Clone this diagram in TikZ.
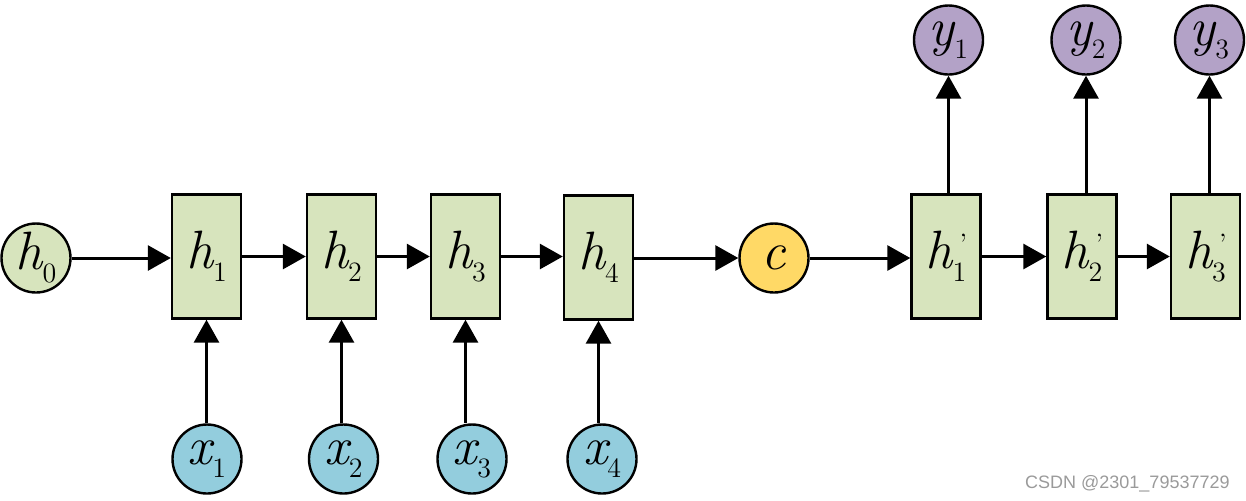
\documentclass[tikz,border=0pt]{standalone}
\usepackage{fontspec}
\newfontfamily\wmfont{Liberation Sans}
\usetikzlibrary{arrows.meta}
\definecolor{boxgreen}{HTML}{D7E4BD}
\definecolor{inblue}{HTML}{93CDDD}
\definecolor{outpurple}{HTML}{B3A2C7}
\definecolor{ctxyellow}{HTML}{FFD966}
\definecolor{wmgray}{HTML}{9A9A9A}
\newcommand\vsub[2]{{\itshape #1}\raisebox{-6.5pt}{\fontsize{14}{15}\selectfont #2}}
\newcommand\vprime[2]{{\itshape #1}\raisebox{-6.5pt}{\fontsize{14}{15}\selectfont\rlap{\hspace{3.5pt}\raisebox{14pt}{\char"27}}#2}}
\tikzset{
  lbl/.style={font=\fontsize{27}{30}\selectfont, inner sep=0pt},
  cell/.style={lbl, draw=black, line width=1.2pt, fill=boxgreen, minimum width=34.5pt, minimum height=62pt},
  state/.style={lbl, circle, draw=black, line width=1.2pt, minimum size=34.5pt},
  arr/.style={line width=1.5pt, -{Triangle[length=11.5pt,width=12.5pt]}}
}
\begin{document}
\begin{tikzpicture}[x=0.5pt,y=-0.5pt]
\useasboundingbox (0,0) rectangle (1246,500);
% middle row
\node[state, fill=boxgreen] (h0) at (36,258) {\vsub{h}{0}};
\node[cell] (h1) at (206.5,256.5) {\vsub{h}{1}};
\node[cell] (h2) at (341.5,256.5) {\vsub{h}{2}};
\node[cell] (h3) at (465.5,256.5) {\vsub{h}{3}};
\node[cell] (h4) at (598.5,257.5) {\vsub{h}{4}};
\node[state, fill=ctxyellow] (c) at (774,258) {\itshape c};
\node[cell] (d1) at (946,256.5) {\vprime{h}{1}};
\node[cell] (d2) at (1082,256.5) {\vprime{h}{2}};
\node[cell] (d3) at (1205.5,256.5) {\vprime{h}{3}};
% inputs
\node[state, fill=inblue] (x1) at (207,459) {\vsub{x}{1}};
\node[state, fill=inblue] (x2) at (343.5,459) {\vsub{x}{2}};
\node[state, fill=inblue] (x3) at (472,459) {\vsub{x}{3}};
\node[state, fill=inblue] (x4) at (602,459) {\vsub{x}{4}};
% outputs
\node[state, fill=outpurple] (y1) at (948.5,40) {\vsub{y}{1}};
\node[state, fill=outpurple] (y2) at (1086,40) {\vsub{y}{2}};
\node[state, fill=outpurple] (y3) at (1209.5,40) {\vsub{y}{3}};
% horizontal connectors
\draw[arr] (h0.east) -- (h0.east -| h1.west);
\draw[arr] (h1.east) -- (h1.east -| h2.west);
\draw[arr] (h2.east) -- (h2.east -| h3.west);
\draw[arr] (h3.east) -- (h3.east -| h4.west);
\draw[arr] (h4.east |- c.west) -- (c.west);
\draw[arr] (c.east) -- (c.east -| d1.west);
\draw[arr] (d1.east) -- (d1.east -| d2.west);
\draw[arr] (d2.east) -- (d2.east -| d3.west);
% vertical connectors
\draw[arr] (x1.north -| h1.south) -- (h1.south);
\draw[arr] (x2.north -| h2.south) -- (h2.south);
\draw[arr] (x3.north -| h3.south) -- (h3.south);
\draw[arr] (x4.north -| h4.south) -- (h4.south);
\draw[arr] (d1.north -| y1.south) -- (y1.south);
\draw[arr] (d2.north -| y2.south) -- (y2.south);
\draw[arr] (d3.north -| y3.south) -- (y3.south);
% watermark
\node[anchor=base east, inner sep=0pt, text=wmgray, font=\wmfont\fontsize{9}{10}\selectfont] (wm) at (1230,488) {CSDN @2301\_79537729};
\end{tikzpicture}
\end{document}
